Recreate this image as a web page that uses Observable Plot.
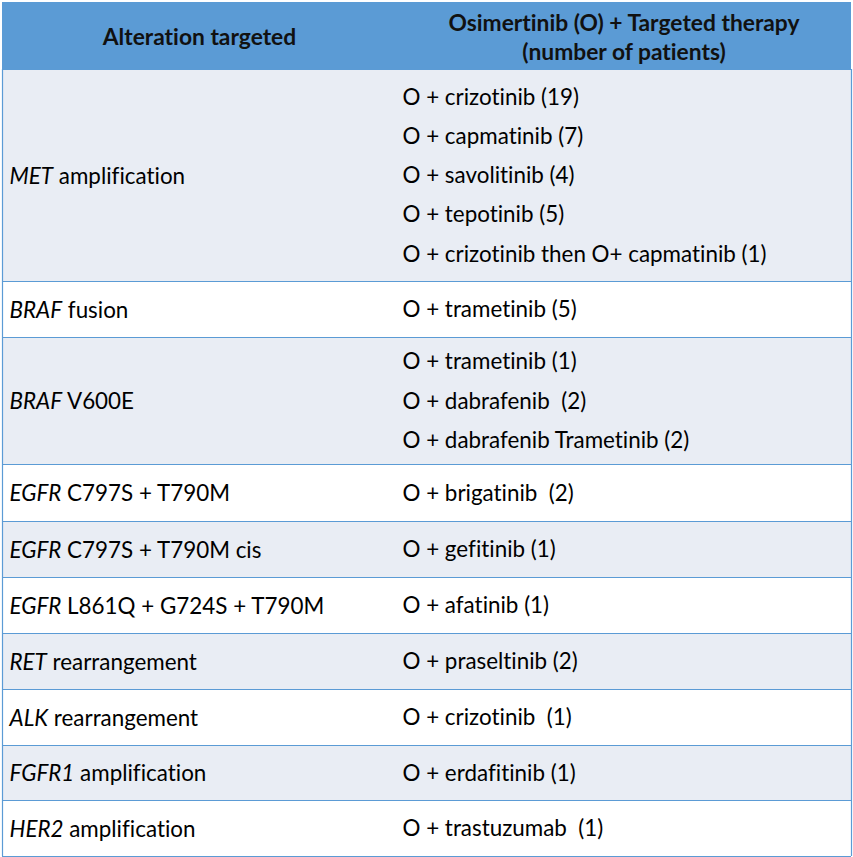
<!DOCTYPE html>
<html><head><meta charset="utf-8">
<script src="https://cdn.jsdelivr.net/npm/d3@7"></script>
<script src="https://cdn.jsdelivr.net/npm/@observablehq/plot@0.6"></script>
<style>
html,body{margin:0;padding:0;background:#fff;}
svg text{white-space:pre;font-variant-ligatures:none;font-feature-settings:"liga" 0,"clig" 0;}
</style></head><body><div id="chart"></div>
<script>
// ---- data ----
const headers = ["Alteration targeted", "Osimertinib (O) + Targeted therapy\n(number of patients)"];
const alterations = [
  "MET amplification",
  "BRAF fusion",
  "BRAF V600E",
  "EGFR C797S + T790M",
  "EGFR C797S + T790M cis",
  "EGFR L861Q + G724S + T790M",
  "RET rearrangement",
  "ALK rearrangement",
  "FGFR1 amplification",
  "HER2 amplification"
];
const therapyRow = [0, 0, 0, 0, 0, 1, 2, 2, 2, 3, 4, 5, 6, 7, 8, 9];
const therapyLabels = [
  "O + crizotinib (19)",
  "O + capmatinib (7)",
  "O + savolitinib (4)",
  "O + tepotinib (5)",
  "O + crizotinib then O+ capmatinib (1)",
  "O + trametinib (5)",
  "O + trametinib (1)",
  "O + dabrafenib  (2)",
  "O + dabrafenib Trametinib (2)",
  "O + brigatinib  (2)",
  "O + gefitinib (1)",
  "O + afatinib (1)",
  "O + praseltinib (2)",
  "O + crizotinib  (1)",
  "O + erdafitinib (1)",
  "O + trastuzumab  (1)"
];

// ---- layout ----
const W = 853, H = 857;
const colEdges = [2, 396, 851];
const headerTop = 2, headerBottom = 69;
const rowHeights = [212, 56, 127, 57, 56, 56, 56, 56, 55, 56];
const lineGap = 39.3;
const textPad = 7;
const FS = 22.4, FSH = 22.8;
const blue = "#5B9BD5", band = "#E9EDF4";

let cursorY = headerBottom;
const rows = alterations.map((label, i) => {
  const r = {i, label, y1: cursorY, y2: cursorY + rowHeights[i], n: therapyRow.filter(v => v === i).length};
  cursorY += rowHeights[i];
  return r;
});
const lines = therapyLabels.map((label, j) => {
  const r = rows[therapyRow[j]];
  const k = therapyRow.slice(0, j).filter(v => v === therapyRow[j]).length;
  return {label, y: (r.y1 + r.y2) / 2 + (k - (r.n - 1) / 2) * lineGap};
});
const boundaries = [headerBottom, ...rows.map(r => r.y2)];

const plot = Plot.plot({
  width: W, height: H, margin: 0,
  x: {type: "linear", domain: [0, W], range: [0, W], axis: null},
  y: {type: "linear", domain: [0, H], range: [0, H], axis: null},
  color: {type: "identity"},
  style: {fontFamily: "Lato, 'Open Sans', sans-serif", background: "white", color: "black"},
  marks: [
    Plot.rect([0], {x1: () => colEdges[0], x2: () => colEdges[2], y1: () => headerTop, y2: () => headerBottom, fill: () => blue}),
    Plot.rect(rows, {x1: () => colEdges[0], x2: () => colEdges[2], y1: "y1", y2: "y2", fill: d => d.i % 2 === 0 ? band : "#FFFFFF"}),
    Plot.ruleY(boundaries, {y: d => d, x1: () => colEdges[0], x2: () => colEdges[2], stroke: () => blue, strokeWidth: 1.2}),
    Plot.ruleX([colEdges[0], colEdges[2]], {x: d => d, y1: () => headerBottom, y2: () => boundaries[boundaries.length - 1], stroke: () => blue, strokeWidth: 1.2}),
    Plot.text([headers[0]], {x: () => (colEdges[0] + colEdges[1]) / 2, y: () => (headerTop + headerBottom) / 2 + 1.5, text: d => d, fontWeight: "bold", fontSize: FSH, fill: () => "#111"}),
    Plot.text([headers[1]], {x: () => (colEdges[1] + colEdges[2]) / 2, y: () => (headerTop + headerBottom) / 2 + 0.5, text: d => d, fontWeight: "bold", fontSize: FSH, lineHeight: 1.23, fill: () => "#111"}),
    Plot.text(rows, {x: () => colEdges[0] + textPad, y: d => (d.y1 + d.y2) / 2 + 1, text: "label", textAnchor: "start", fontSize: FS, fill: () => "#000"}),
    Plot.text(lines, {x: () => colEdges[1] + 6, y: d => d.y + 0.5, text: "label", textAnchor: "start", fontSize: FS, fill: () => "#000"})
  ]
});

const altSet = new Set(alterations);
d3.select(plot).selectAll("text").attr("xml:space", "preserve");
d3.select(plot).selectAll("text").each(function() {
  const s = this.textContent;
  if (!altSet.has(s)) return;
  const idx = s.indexOf(" ");
  const el = d3.select(this);
  el.text("");
  el.append("tspan").attr("font-style", "italic").text(s.slice(0, idx));
  el.append("tspan").text(s.slice(idx));
});
document.getElementById("chart").appendChild(plot);
</script></body></html>
